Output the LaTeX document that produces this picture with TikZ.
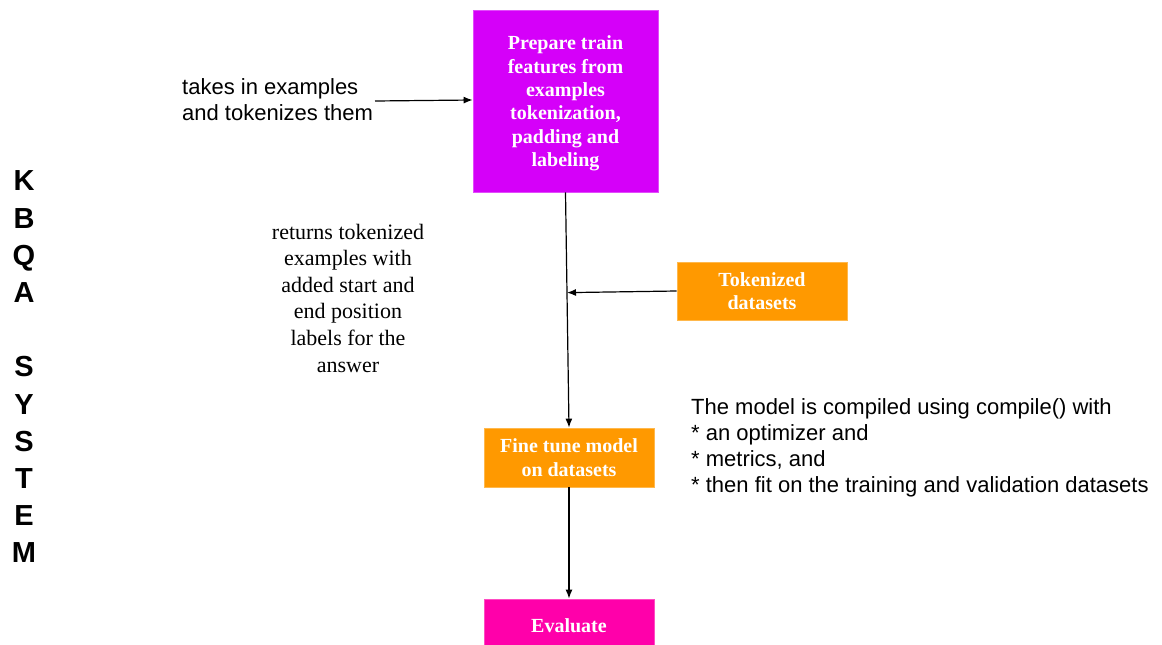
\documentclass[tikz,border=0pt]{standalone}
\usepackage{fontspec}
\setmainfont{Liberation Serif}
\setsansfont{Liberation Sans}
\usetikzlibrary{arrows.meta,calc}
\definecolor{prepcol}{HTML}{D500F9}
\definecolor{orangecol}{HTML}{FF9900}
\definecolor{evalcol}{HTML}{FF00AA}
\tikzset{
  box/.style={draw=#1!70!white, line width=0.8pt, fill=#1, text=white, align=center, inner sep=2pt,
    font=\rmfamily\bfseries\fontsize{20}{23.4}\selectfont},
  boxtext/.style={text=white, align=center, inner sep=0pt, font=\rmfamily\bfseries\fontsize{20}{23.4}\selectfont},
  plain/.style={inner sep=0pt, font=\sffamily\fontsize{22}{26}\selectfont},
  serifnote/.style={inner sep=0pt, align=center, font=\rmfamily\fontsize{22}{26.6}\selectfont},
  conn/.style={line width=1.2pt, -{Latex[length=9pt,width=7pt]}},
}
\begin{document}
\begin{tikzpicture}[x=1pt,y=-1pt]
\useasboundingbox (0,0) rectangle (1162,645);
\clip (0,0) rectangle (1162,645);
\fill[white] (0,0) rectangle (1162,645);

\node[box=prepcol, minimum width=185pt, minimum height=182pt] (prep) at (565.5,101) {};
\node[boxtext] (preptext) at (565.5,103.5)
  {Prepare train\\features from\\examples\\tokenization,\\padding and\\labeling};
\node[box=orangecol, minimum width=170pt, minimum height=58pt] (tok) at (762,291) {Tokenized\\datasets};
\node[box=orangecol, minimum width=170pt, minimum height=59pt] (fine) at (569,457.5) {Fine tune model\\on datasets};
\node[box=evalcol, minimum width=170pt, minimum height=54pt] (eval) at (569,626) {Evaluate};

\node[plain, anchor=west, align=left] (takes) at (182,100) {takes in examples\\and tokenizes them};
\coordinate (takesend) at (375,101);
\node[serifnote] (returns) at (348,298) {returns tokenized\\examples with\\added start and\\end position\\labels for the\\answer};
\node[plain, anchor=west, align=left] (compile) at (691,448)
  {The model is compiled using compile() with\\* an optimizer and\\* metrics, and\\* then fit on the training and validation datasets};
\node[inner sep=0pt, align=center, font=\sffamily\bfseries\fontsize{29}{37.2}\selectfont] (kbqa) at (24,367)
  {K\\B\\Q\\A\\[37.2pt]S\\Y\\S\\T\\E\\M};

\draw[conn] (takesend) -- (takes.east -| prep.west);
\draw[conn] (prep.south) -- (fine.north);
\coordinate (join) at ($(prep.south)!(tok.west)!(fine.north)$);
\draw[conn] (tok.west) -- (join);
\draw[conn] (fine.south) -- (eval.north);
\end{tikzpicture}
\end{document}
